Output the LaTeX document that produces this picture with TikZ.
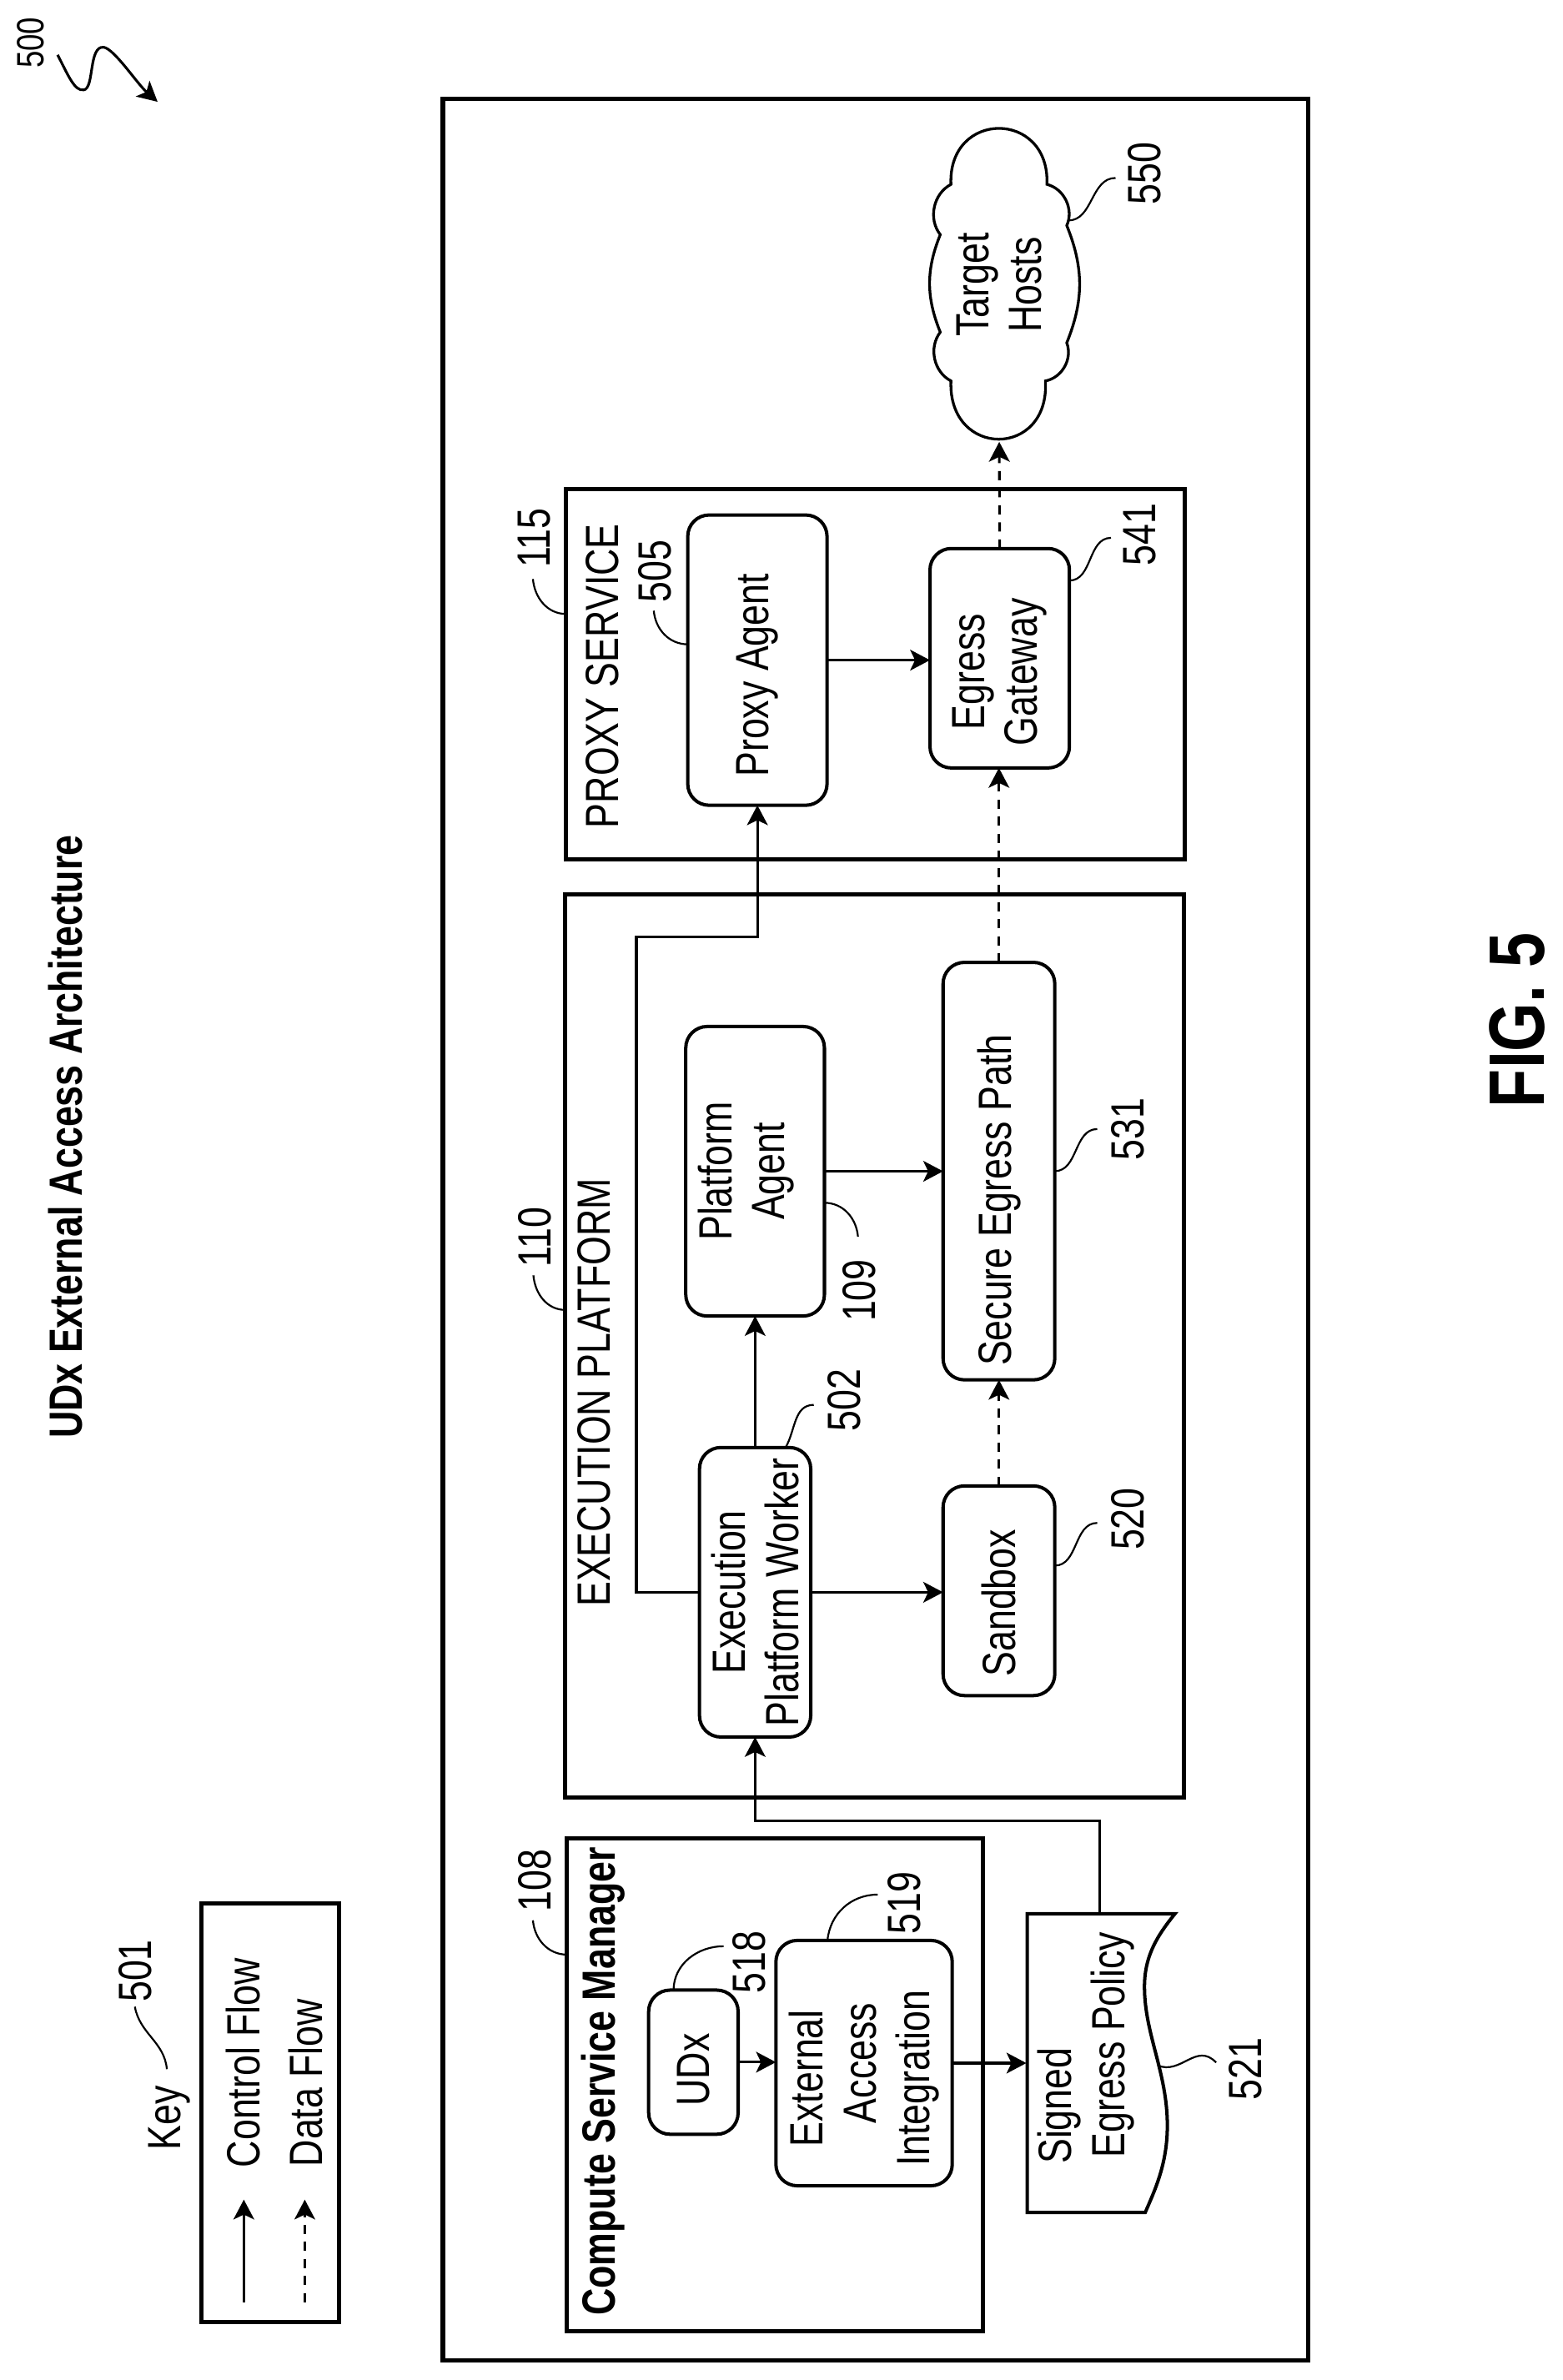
\documentclass[tikz,border=0pt]{standalone}
\usepackage{fontspec}
\setmainfont[FakeStretch=0.8]{Liberation Sans}
\usepackage{tikz}
\usetikzlibrary{arrows.meta}
\tikzset{%
  tipA/.tip={Stealth[length=6.5pt,width=6.8pt,inset=1.6pt]},
  framebox/.style={draw, line width=1.4pt, inner sep=0pt, outer sep=0pt},
  rbox/.style={draw, rotate=90, rounded corners=7pt, line width=1.1pt, inner sep=0pt, outer sep=0pt, align=center, font=\fontsize{15.3}{17.4}\selectfont},
  txt/.style={rotate=90, inner sep=0pt, outer sep=0pt, align=center, font=\fontsize{15.3}{17.4}\selectfont},
  boldtxt/.style={txt, font=\fontsize{15.3}{17.4}\selectfont\bfseries},
  flow/.style={line width=.85pt, -tipA},
  dataflow/.style={line width=.85pt, -tipA, dash pattern=on 3pt off 2.6pt},
  leader/.style={line width=.6pt},
}

\begin{document}
\begin{tikzpicture}[x=.5pt,y=-.5pt]
\useasboundingbox (0,0) rectangle (1025.1,1562);

% title and figure number
\node[txt] (n500) at (20,28) {\fontsize{12.5}{14}\selectfont 500};
\node[boldtxt] (title) at (43,746) {UDx External Access Architecture};
\node[txt, font=\fontsize{25.8}{30}\selectfont\bfseries] (fig) at (995.4,669.5) {FIG. 5};
\coordinate (s500) at (37.8,36);
\coordinate (e500) at (103.4,66.8);
\draw[line width=.85pt, -tipA] (s500) .. controls (45,50) and (49,60) .. (55,59) .. controls (62,58) and (58,30) .. (68,31) .. controls (75,32) and (90,55) .. (e500);

% key
\node[txt] (key) at (111.2,1390) {Key};
\node[txt] (n501) at (89,1293.5) {501};
\coordinate (t501) at (88.5,1317);
\coordinate (b501) at (109.5,1358);
\draw[leader] (b501) to[out=95,in=-80] (t501);
\node[framebox, minimum width=45.35pt, minimum height=137.5pt] (keybox) at (177.35,1386.5) {};
\node[txt, anchor=west] (control) at (159.6,1422.5) {Control Flow};
\node[txt, anchor=west] (data) at (200.7,1422) {Data Flow};
\coordinate (c1) at (160,1511);
\coordinate (c2) at (160,1443.6);
\coordinate (d1) at (200,1511);
\coordinate (d2) at (200,1443.6);
\draw[flow] (c1) -- (c2);
\draw[dataflow] (d1) -- (d2);

% frames
\node[framebox, minimum width=283.9pt, minimum height=742pt] (outer) at (574.5,807) {};
\node[framebox, minimum width=136.4pt, minimum height=161.7pt] (csm) at (508.4,1368.3) {};
\node[framebox, minimum width=203pt, minimum height=296.4pt] (exec) at (574,883.2) {};
\node[framebox, minimum width=203pt, minimum height=121.45pt] (proxy) at (574.5,442.35) {};
\node[boldtxt] (csmtitle) at (396,1366) {Compute Service Manager};
\node[txt] (exectitle) at (390,914) {EXECUTION PLATFORM};
\node[txt] (proxytitle) at (395.5,443.7) {PROXY SERVICE};

% boxes
\node[rbox, minimum width=47.3pt, minimum height=29.35pt] (udx) at (455,1353.4) {UDx\hspace*{5pt}};
\node[rbox, minimum width=80.5pt, minimum height=57.85pt] (eai) at (567,1354) {External\hspace*{10pt}\\Access\hspace*{10pt}\\Integration\hspace*{10pt}};
\node[rbox, minimum width=95pt, minimum height=36.5pt] (epw) at (495.5,1045) {Execution\\Platform Worker};
\node[rbox, minimum width=95pt, minimum height=45.5pt, text depth=9.2pt] (pagent) at (495.5,768.7) {Platform\\Agent};
\node[rbox, minimum width=68.8pt, minimum height=36.65pt] (sandbox) at (655.5,1044) {Sandbox\hspace*{8pt}};
\node[rbox, minimum width=137pt, minimum height=36.65pt] (sep) at (655.5,768.6) {Secure Egress Path\hspace*{19pt}};
\node[rbox, minimum width=95.25pt, minimum height=45.7pt] (pxagent) at (497,433.25) {Proxy Agent\hspace*{10pt}};
\node[rbox, minimum width=72pt, minimum height=45.75pt] (eg) at (656,432) {Egress\hspace*{9pt}\\Gateway\hspace*{9pt}};

% signed policy
\draw[line width=1.1pt] (674,1256) -- (771,1256) .. controls (758,1272) and (751,1285) .. (751,1304) .. controls (751,1335) and (766,1360) .. (766,1395) .. controls (766,1420) and (758,1437) .. (751.5,1452) -- (674,1452) -- cycle;
\node[txt, minimum width=94pt, minimum height=39pt] (policy) at (712.5,1350) {Signed\hspace*{32pt}\\\hspace*{8pt}Egress Policy};

% target hosts
\draw[line width=.9pt] (624,121) .. controls (622,72) and (689,72) .. (687,121)
  to[bend left=50] (700,148) to[bend left=22] (700,225) to[bend left=50] (686,250)
  .. controls (689,301) and (622,301) .. (624,250)
  to[bend left=50] (617,218) to[bend left=22] (617,154) to[bend left=50] (624,121) -- cycle;
\node[txt, minimum width=103pt] (hosts) at (655.7,187) {Target\\Hosts};

% connectors
\coordinate (jog) at (600,1195);
\coordinate (bus) at (417.6,614.7);
\draw[flow] (udx.south) -- (udx.south -| eai.north);
\draw[flow] (eai.south) -- (eai.south -| policy.north);
\draw[flow] ([xshift=4.5pt]policy.east) |- (jog) -| (epw.west);
\draw[flow] (epw.east) -- (epw.east |- pagent.west);
\draw[flow] (epw.south) -- (epw.south -| sandbox.north);
\draw[flow] (epw.north) -| (bus) -| (pxagent.west);
\draw[flow] (pagent.south) -- (pagent.south -| sep.north);
\draw[flow] (pxagent.south) -- (pxagent.south -| eg.north);
\draw[dataflow] (sandbox.east) -- (sep.west);
\draw[dataflow] (sep.east) -- (sep.east |- eg.west);
\draw[dataflow] (eg.east) -- (hosts.west);

% numbers
\node[txt] (n108) at (351,1234) {108};
\node[txt] (n518) at (491.7,1288) {518};
\node[txt] (n519) at (593.5,1249) {519};
\node[txt] (n521) at (817.5,1358) {521};
\node[txt] (n110) at (351,812) {110};
\node[txt] (n115) at (350.7,353) {115};
\node[txt] (n505) at (430,375) {505};
\node[txt] (n502) at (554,919) {502};
\node[txt] (n109) at (564,847) {109};
\node[txt] (n520) at (740,997) {520};
\node[txt] (n531) at (740,741) {531};
\node[txt] (n541) at (748,351) {541};
\node[txt] (n550) at (751,114) {550};
\coordinate (t108) at (349.7,1260.3);
\coordinate (t518) at (474.8,1277.3);
\coordinate (t519) at (576,1243.4);
\coordinate (t521) at (798,1353.6);
\coordinate (b521) at (759.6,1355.5);
\coordinate (t110) at (350,837);
\coordinate (t115) at (349.7,380);
\coordinate (t505) at (429,400.8);
\coordinate (t502) at (534,922);
\coordinate (t109) at (563,811.6);
\coordinate (t520) at (720,999.5);
\coordinate (t531) at (720,741);
\coordinate (t541) at (729,353);
\coordinate (t550) at (732,116.8);
\coordinate (b550) at (701,144.7);
\draw[leader] (t108) to[out=-85,in=180] ([yshift=42.75pt]csm.west);
\draw[leader] (t115) to[out=-85,in=180] ([yshift=19.7pt]proxy.west);
\draw[leader] (t110) to[out=-85,in=180] ([yshift=11.75pt]exec.west);
\draw[leader] (t505) to[out=-85,in=180] ([yshift=5.2pt]pxagent.north);
\draw[leader] ([xshift=-6.5pt]udx.east) to[out=90,in=180] (t518);
\draw[leader] ([xshift=-12pt]eai.east) to[out=85,in=180] (t519);
\draw[leader] ([xshift=10pt]epw.east) to[out=60,in=180] (t502);
\draw[leader] ([yshift=-10.35pt]pagent.south) to[out=0,in=95] (t109);
\draw[leader] ([yshift=8.25pt]sandbox.south) to[out=0,in=180] (t520);
\draw[leader] (sep.south) to[out=0,in=180] (t531);
\draw[leader] ([yshift=25.5pt]eg.south) to[out=0,in=180] (t541);
\draw[leader] (b550) to[out=0,in=180] (t550);
\draw[leader] (b521) .. controls (775,1362) and (785,1340) .. (t521);
\end{tikzpicture}
\end{document}
